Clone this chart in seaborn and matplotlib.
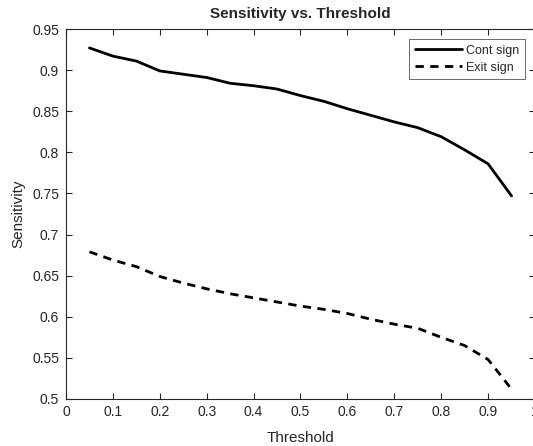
import numpy as np
import pandas as pd
import matplotlib
matplotlib.use("Agg")
import matplotlib.pyplot as plt
import seaborn as sns

# data
threshold = [0.05, 0.10, 0.15, 0.20, 0.25, 0.30, 0.35, 0.40, 0.45, 0.50,
             0.55, 0.60, 0.65, 0.70, 0.75, 0.80, 0.85, 0.90, 0.95]
cont_sign = [0.927, 0.917, 0.911, 0.899, 0.895, 0.891, 0.884, 0.881, 0.877, 0.869,
             0.862, 0.853, 0.845, 0.837, 0.830, 0.819, 0.803, 0.786, 0.747]
exit_sign = [0.679, 0.669, 0.661, 0.649, 0.641, 0.634, 0.628, 0.623, 0.618, 0.613,
             0.609, 0.604, 0.597, 0.591, 0.586, 0.575, 0.565, 0.548, 0.512]
x_ticks = [0, 0.1, 0.2, 0.3, 0.4, 0.5, 0.6, 0.7, 0.8, 0.9, 1]
y_ticks = [0.5, 0.55, 0.6, 0.65, 0.7, 0.75, 0.8, 0.85, 0.9, 0.95]

df = pd.DataFrame({"Threshold": threshold, "Cont sign": cont_sign, "Exit sign": exit_sign})

sns.set_style("ticks")
plt.rcParams["font.family"] = ["Liberation Sans", "DejaVu Sans"]
grey = "#262626"

fig = plt.figure(figsize=(5.33, 4.46), dpi=100)
# axes run a bit past the right edge, as in the reference
ax = fig.add_axes([66 / 533, 47 / 446, 469 / 533, 370 / 446])

sns.lineplot(data=df, x="Threshold", y="Cont sign", ax=ax, color="black",
             linewidth=2, label="Cont sign")
sns.lineplot(data=df, x="Threshold", y="Exit sign", ax=ax, color="black",
             linewidth=2, linestyle=(0, (3.0, 2.3)), label="Exit sign")

ax.set_xlim(0, 1)
ax.set_ylim(0.5, 0.95)
ax.set_xticks(x_ticks)
ax.set_xticklabels(["0", "0.1", "0.2", "0.3", "0.4", "0.5", "0.6", "0.7", "0.8", "0.9", "1"])
ax.set_yticks(y_ticks)
ax.set_yticklabels(["0.5", "0.55", "0.6", "0.65", "0.7", "0.75", "0.8", "0.85", "0.9", "0.95"])

for sp in ax.spines.values():
    sp.set_visible(True)
    sp.set_color(grey)
    sp.set_linewidth(0.8)
ax.tick_params(direction="in", length=4, width=0.8, colors=grey, labelsize=10,
               top=True, right=True, pad=4)
ax.tick_params(axis="y", pad=5)

ax.set_xlabel("Threshold", fontsize=11, color=grey, labelpad=9)
ax.set_ylabel("Sensitivity", fontsize=11, color=grey, labelpad=5)
ax.set_title("Sensitivity vs. Threshold", fontsize=11, fontweight="bold", pad=8)

leg = ax.legend(loc="upper right", fontsize=9, handlelength=3.8, handletextpad=0.3,
                borderaxespad=0.8, frameon=True, fancybox=False, labelspacing=0.4,
                borderpad=0.45)
leg.get_frame().set_edgecolor(grey)
leg.get_frame().set_linewidth(0.6)

fig.savefig("out.png", dpi=100)
